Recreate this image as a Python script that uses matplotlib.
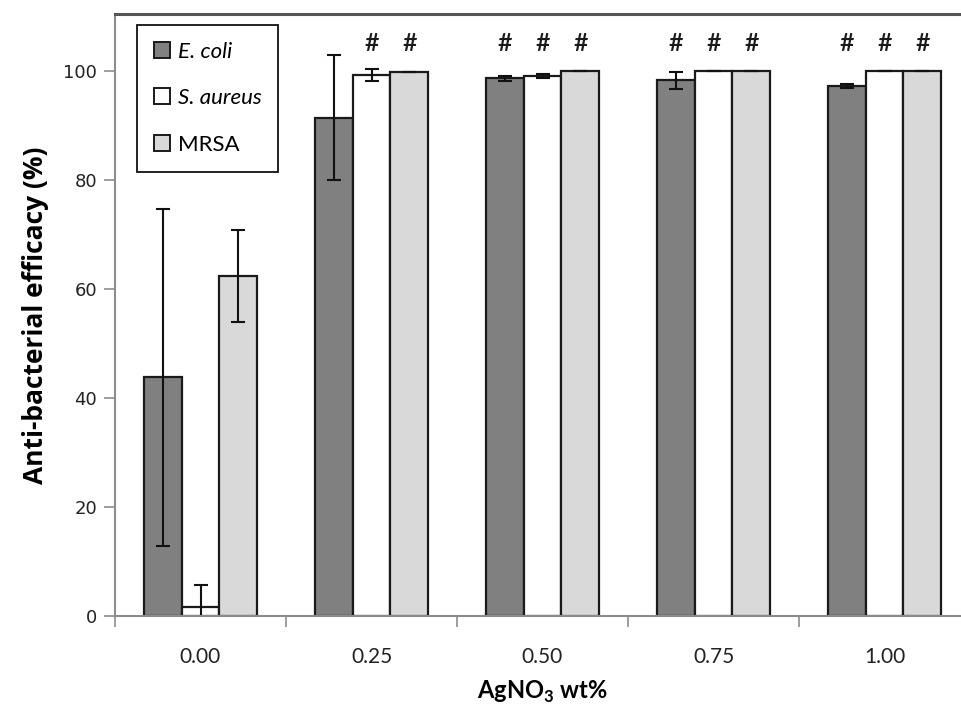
import numpy as np
import matplotlib
matplotlib.use("Agg")
import matplotlib.pyplot as plt

plt.rcParams['mathtext.fontset'] = 'custom'
plt.rcParams['mathtext.rm'] = 'Lato:bold'
plt.rcParams['mathtext.bf'] = 'Lato:bold'

# AgNO3 loading (wt%) and anti-bacterial efficacy for each strain
categories = ["0.00", "0.25", "0.50", "0.75", "1.00"]
ecoli = [43.8, 91.5, 98.7, 98.3, 97.3]
ecoli_err = [30.9, 11.5, 0.5, 1.6, 0.3]
saureus = [1.6, 99.3, 99.1, 100.0, 100.0]
saureus_err = [4.0, 1.1, 0.4, 0.0, 0.0]
mrsa = [62.4, 99.9, 100.0, 100.0, 100.0]
mrsa_err = [8.4, 0.0, 0.0, 0.0, 0.0]

# significance marks (#) per strain at each loading
sig_ecoli = [False, False, True, True, True]
sig_saureus = [False, True, True, True, True]
sig_mrsa = [False, True, True, True, True]

series = [
    ("E. coli", ecoli, ecoli_err, "#808080", sig_ecoli, "italic"),
    ("S. aureus", saureus, saureus_err, "#ffffff", sig_saureus, "italic"),
    ("MRSA", mrsa, mrsa_err, "#d9d9d9", sig_mrsa, "normal"),
]

W, H = 961, 709
fig = plt.figure(figsize=(W / 100, H / 100), dpi=100)
left, right, bottom, top = 115, 970, 616, 14
ax = fig.add_axes([left / W, 1 - bottom / H, (right - left) / W, (bottom - top) / H])

x = np.arange(len(categories))
bw = 0.222
handles = []
for i, (name, vals, errs, col, sig, style) in enumerate(series):
    pos = x + (i - 1) * bw
    b = ax.bar(pos, vals, width=bw, color=col, edgecolor="#1a1a1a", linewidth=1.6,
               yerr=errs, capsize=5,
               error_kw=dict(ecolor="#111111", elinewidth=1.5, capthick=1.5),
               label=name, zorder=2)
    handles.append(b)
    for p, s in zip(pos, sig):
        if s:
            ax.text(p, 105.0, "#", ha="center", va="center", fontsize=18,
                    fontfamily="Lato", fontweight="semibold", color="#1a1a1a")

ax.set_xlim(-0.5, len(categories) - 0.5)
ax.set_ylim(0, 110.5)

# category labels at centres, tick marks at the group boundaries
ax.set_xticks(x)
ax.set_xticklabels(categories, fontfamily="Lato", fontsize=15, color="#222222")
ax.tick_params(axis="x", which="major", length=0, pad=22)
ax.set_xticks(np.arange(-0.5, len(categories), 1.0), minor=True)
ax.tick_params(axis="x", which="minor", length=8, width=1.2, color="#8c8c8c", direction="out")

ax.set_yticks(np.arange(0, 101, 20))
ax.set_yticklabels([str(v) for v in range(0, 101, 20)], fontfamily="DejaVu Sans",
                   fontsize=13, color="#222222")
ax.tick_params(axis="y", length=8, width=1.2, color="#8c8c8c", direction="out", pad=5)

for side in ("left", "bottom"):
    ax.spines[side].set_color("#8c8c8c")
    ax.spines[side].set_linewidth(1.5)
ax.spines["top"].set_color("#555555")
ax.spines["top"].set_linewidth(2.2)
ax.spines["right"].set_color("#555555")
ax.spines["right"].set_linewidth(2.2)

ax.set_ylabel("Anti-bacterial efficacy (%)", fontfamily="Open Sans", fontweight="bold",
              fontsize=19, labelpad=10)
ax.set_xlabel(r"AgNO$_{3}$ wt%", fontfamily="Lato", fontweight="bold", fontsize=17,
              labelpad=9)

leg = ax.legend(handles=handles, loc="upper left", bbox_to_anchor=(0.026, 0.982),
                frameon=True, fancybox=False, edgecolor="#111111", framealpha=1,
                prop=dict(family="Lato", size=16), handlelength=0.72, handleheight=0.72,
                handletextpad=0.35, labelspacing=1.2, borderpad=0.75, borderaxespad=0)
leg.get_frame().set_linewidth(1.3)
for t, s in zip(leg.get_texts(), series):
    t.set_style(s[5])
for h in leg.legend_handles:
    h.set_linewidth(1.4)

fig.savefig("out.png", dpi=100)
